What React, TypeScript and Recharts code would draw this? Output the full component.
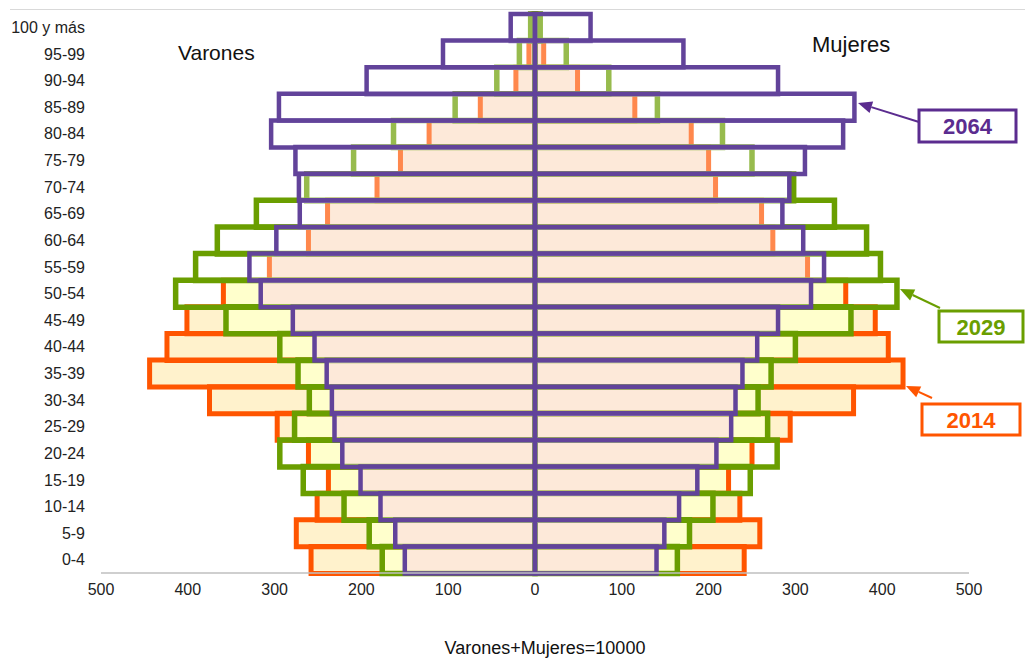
import { BarChart, Bar, XAxis, YAxis } from "recharts";

const ages = [
  "100 y más", "95-99", "90-94", "85-89", "80-84", "75-79", "70-74",
  "65-69", "60-64", "55-59", "50-54", "45-49", "40-44", "35-39",
  "30-34", "25-29", "20-24", "15-19", "10-14", "5-9", "0-4",
];

// per 10000 inhabitants
const male2014 = [2, 7, 22, 63, 122, 155, 182, 239, 261, 306, 359, 401, 424, 444, 375, 297, 261, 238, 251, 275, 258];
const female2014 = [2, 10, 49, 115, 180, 200, 208, 261, 274, 314, 358, 392, 407, 424, 367, 294, 250, 223, 236, 259, 241];
const male2029 = [5, 18, 44, 92, 163, 209, 263, 321, 366, 391, 414, 356, 294, 273, 260, 277, 294, 267, 220, 191, 176];
const female2029 = [6, 36, 85, 141, 216, 250, 298, 345, 382, 398, 417, 364, 300, 272, 257, 268, 279, 248, 205, 178, 164];
const male2064 = [28, 106, 194, 295, 304, 276, 272, 271, 298, 329, 316, 279, 254, 240, 234, 231, 222, 201, 178, 161, 150];
const female2064 = [64, 171, 280, 368, 355, 311, 293, 285, 309, 333, 318, 280, 256, 239, 231, 226, 209, 187, 166, 149, 140];

const xTicks = [-500, -400, -300, -200, -100, 0, 100, 200, 300, 400, 500];

const rows = ages.map((age, i) => {
  const mA = male2014[i], mB = male2029[i], mC = male2064[i];
  const fA = female2014[i], fB = female2029[i], fC = female2064[i];
  return {
    age,
    mCream: -mA, fCream: fA,
    mYellow: -Math.min(mA, mB), fYellow: Math.min(fA, fB),
    mPeach: -Math.min(mA, mB, mC), fPeach: Math.min(fA, fB, fC),
    m14: -mA, f14: fA,
    m29: -mB, f29: fB,
    m64: -mC, f64: fC,
  };
});

const layers = [
  { id: "cream", m: "mCream", f: "fCream", fill: "#FFF2CC", fillOpacity: 1, stroke: "none", sw: 0 },
  { id: "yellow", m: "mYellow", f: "fYellow", fill: "#FFFFCC", fillOpacity: 1, stroke: "none", sw: 0 },
  { id: "peach", m: "mPeach", f: "fPeach", fill: "#FCE0C9", fillOpacity: 1, stroke: "none", sw: 0 },
  { id: "y2014", m: "m14", f: "f14", fill: "none", fillOpacity: 1, stroke: "#FF5500", sw: 5 },
  { id: "y2029", m: "m29", f: "f29", fill: "none", fillOpacity: 1, stroke: "#6A9E00", sw: 5.5 },
  { id: "y2064", m: "m64", f: "f64", fill: "#FFFFFF", fillOpacity: 0.3, stroke: "#62439A", sw: 4.5 },
];

const Arrow = ({ x1, y1, x2, y2, color }: any) => {
  const a = Math.atan2(y2 - y1, x2 - x1);
  const len = 14, w = 6;
  const bx = x2 - len * Math.cos(a), by = y2 - len * Math.sin(a);
  const px = -Math.sin(a) * w, py = Math.cos(a) * w;
  return (
    <g>
      <line x1={x1} y1={y1} x2={bx} y2={by} stroke={color} strokeWidth={2} />
      <polygon points={`${x2},${y2} ${bx + px},${by + py} ${bx - px},${by - py}`} fill={color} />
    </g>
  );
};

const Tag = ({ x, y, w, h, text, color }: any) => (
  <g>
    <rect x={x} y={y} width={w} height={h} fill="#fff" stroke={color} strokeWidth={3} />
    <text x={x + w / 2} y={y + h / 2 + 8} textAnchor="middle" fontSize={22} fontWeight="bold" fill={color}>
      {text}
    </text>
  </g>
);

export default function App() {
  return (
    <div
      style={{
        position: "absolute",
        left: 0,
        top: 0,
        width: 1025,
        height: 659,
        background: "#fff",
        fontFamily: "'Liberation Sans', Arial, sans-serif",
      }}
    >
      <div style={{ position: "absolute", left: 10, right: 0, top: 9, borderTop: "1px solid #D9D9D9" }} />
      <BarChart
        width={1025}
        height={659}
        data={rows}
        layout="vertical"
        stackOffset="sign"
        barCategoryGap={0}
        margin={{ top: 14, right: 56, left: 0, bottom: 56 }}
      >
        <XAxis
          type="number"
          domain={[-500, 500]}
          ticks={xTicks}
          tickFormatter={(v: number) => String(Math.abs(v))}
          axisLine={{ stroke: "#BFBFBF", strokeWidth: 1.5 }}
          tickLine={false}
          tickSize={0}
          tickMargin={11}
          height={30}
          tick={{ fontSize: 16, fill: "#222" }}
          allowDataOverflow
        />
        {layers.map((l, i) => (
          <YAxis
            key={l.id}
            yAxisId={l.id}
            type="category"
            dataKey="age"
            hide={i !== 0}
            width={101}
            axisLine={false}
            tickLine={false}
            tickSize={0}
            tickMargin={16}
            interval={0}
            tick={{ fontSize: 16, fill: "#222" }}
          />
        ))}
        {layers.flatMap((l) =>
          [l.m, l.f].map((key) => (
            <Bar
              key={l.id + key}
              dataKey={key}
              yAxisId={l.id}
              stackId={l.id}
              fill={l.fill}
              fillOpacity={l.fillOpacity}
              stroke={l.stroke}
              strokeWidth={l.sw}
              isAnimationActive={false}
            />
          ))
        )}
      </BarChart>
      <svg
        width={1025}
        height={659}
        style={{ position: "absolute", left: 0, top: 0, pointerEvents: "none" }}
      >
        <text x={178} y={60} fontSize={21} fill="#111">Varones</text>
        <text x={812} y={52} fontSize={22} fill="#111">Mujeres</text>
        <text x={545} y={654} textAnchor="middle" fontSize={18} fill="#111">Varones+Mujeres=10000</text>
        <Arrow x1={919} y1={122} x2={858} y2={103} color="#5B2C8F" />
        <Tag x={919} y={110} w={97} h={32} text="2064" color="#5B2C8F" />
        <Arrow x1={940} y1={308} x2={900} y2={289} color="#6A9E00" />
        <Tag x={939} y={311} w={84} h={31} text="2029" color="#6A9E00" />
        <Arrow x1={932} y1={398} x2={906} y2={386} color="#FF5500" />
        <Tag x={922} y={404} w={98} h={31} text="2014" color="#FF5500" />
      </svg>
    </div>
  );
}
